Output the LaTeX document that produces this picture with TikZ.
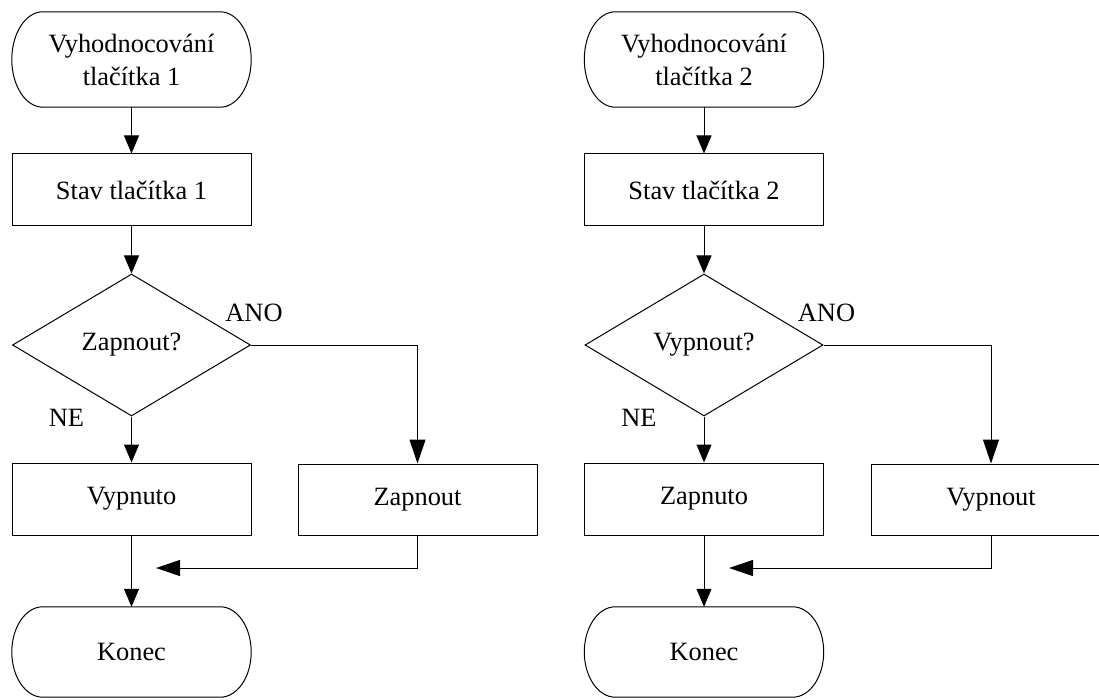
\documentclass[tikz,border=0pt]{standalone}
\usepackage{fontspec}
\setmainfont{Liberation Serif}
\usetikzlibrary{shapes.geometric,arrows.meta,calc}

% outline of a terminal: straight top and bottom, elliptical ends
\newcommand\drawterminal[1]{%
  \draw[line] let \p1=(#1.north), \p2=(#1.south), \n1={(\y1-\y2)/2} in
    ([xshift=31pt]#1.north west) -- ([xshift=-31pt]#1.north east)
    arc[start angle=90, end angle=-90, x radius=31pt, y radius=\n1]
    -- ([xshift=31pt]#1.south west)
    arc[start angle=270, end angle=90, x radius=31pt, y radius=\n1] -- cycle;}

\tikzset{
  x=1pt, y=1pt,
  txt/.style={font=\fontsize{26.4}{33}\selectfont, align=center, inner sep=0pt},
  line/.style={draw=black, line width=1pt},
  terminal/.style={txt, minimum width=239pt},
  procbox/.style={txt, line, rectangle, minimum width=239pt, minimum height=72pt},
  decision/.style={txt, line, diamond, minimum width=238pt, minimum height=142pt},
  flow/.style={line, -{Triangle[length=18pt, width=15pt]}},
  branch/.style={line, -{Triangle[length=24pt, width=16pt]}},
  lbl/.style={txt},
}

\begin{document}
\begin{tikzpicture}
\useasboundingbox (0,0) rectangle (1099,-700);
\clip (0,0) rectangle (1099,-700);

% ---- first button ----
\node[terminal, minimum height=95pt] (s1) at (131.5,-59.5) {Vyhodnocování\\tlačítka 1};
\node[procbox] (b1) at (131.5,-190) {Stav tlačítka 1};
\node[decision] (d1) at (131.5,-345) {Zapnout?};
\node[procbox] (v1) at (131.5,-499) {Vypnuto};
\node[procbox, minimum height=71pt] (z1) at (417.5,-499.5) {Zapnout};
\node[terminal, minimum height=90pt] (e1) at (131.5,-652) {Konec};
\drawterminal{s1}
\drawterminal{e1}
\coordinate (m1) at (156,-568);

\draw[flow] (s1.south) -- (b1.north);
\draw[flow] (b1.south) -- (d1.north);
\draw[flow] (d1.south) -- (v1.north);
\draw[branch] (d1.east) -| (z1.north);
\draw[flow] (v1.south) -- (e1.north);
\draw[branch] (z1.south) |- (m1);
\node[lbl] (ano1) at ([xshift=3pt, yshift=32pt]d1.east) {ANO};
\node[lbl] (ne1) at ([xshift=-65pt, yshift=-1pt]d1.south) {NE};

% ---- second button ----
\node[terminal, minimum height=95pt] (s2) at (704,-59.5) {Vyhodnocování\\tlačítka 2};
\node[procbox] (b2) at (704,-190) {Stav tlačítka 2};
\node[decision] (d2) at (704,-345) {Vypnout?};
\node[procbox] (v2) at (704,-499) {Zapnuto};
\node[procbox, minimum height=71pt] (z2) at (991,-499.5) {Vypnout};
\node[terminal, minimum height=90pt] (e2) at (704,-652) {Konec};
\drawterminal{s2}
\drawterminal{e2}
\coordinate (m2) at (729,-568);

\draw[flow] (s2.south) -- (b2.north);
\draw[flow] (b2.south) -- (d2.north);
\draw[flow] (d2.south) -- (v2.north);
\draw[branch] (d2.east) -| (z2.north);
\draw[flow] (v2.south) -- (e2.north);
\draw[branch] (z2.south) |- (m2);
\node[lbl] (ano2) at ([xshift=3pt, yshift=32pt]d2.east) {ANO};
\node[lbl] (ne2) at ([xshift=-65pt, yshift=-1pt]d2.south) {NE};
\end{tikzpicture}
\end{document}
